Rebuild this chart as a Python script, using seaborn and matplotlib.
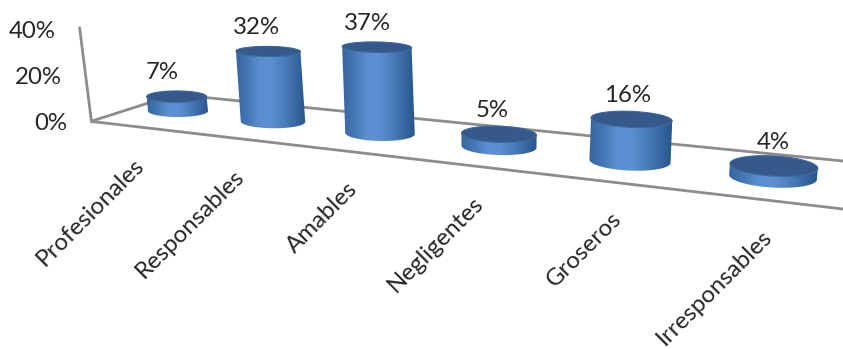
import numpy as np
import matplotlib
matplotlib.use("Agg")
import matplotlib.pyplot as plt
from matplotlib.colors import LinearSegmentedColormap
from matplotlib.patches import Polygon
import seaborn as sns

categories = ["Profesionales", "Responsables", "Amables", "Negligentes", "Groseros", "Irresponsables"]
values = [7, 32, 37, 5, 16, 4]
value_labels = ["7%", "32%", "37%", "5%", "16%", "4%"]
y_ticks = [0, 20, 40]
y_tick_labels = ["0%", "20%", "40%"]

sns.set_theme(style="white")
plt.rcParams["font.family"] = ["Lato", "DejaVu Sans"]
TEXT = "#262626"
AXIS = "#8c8c8c"
FS = 17.3

fig = plt.figure(figsize=(8.43, 3.49), dpi=100)
ax = fig.add_axes([0, 0, 1, 1])
ax.set_xlim(0, 843)
ax.set_ylim(349, 0)
ax.axis("off")


# ---- perspective projection of (category slot, percent) to the canvas
def base_x(i):
    return 178 + 95 * i + 6 * i * (i - 1)


def base_y(i):
    return 111 + 0.111 * (base_x(i) - 178)


def lift(i):
    return 2.05 + 0.14 * i


def lean(x):
    return (x - 500) * 0.0003


def half_w(i):
    return 30 + (base_x(i) - 178) * 0.0235


def half_h(i):
    return 6 + (base_x(i) - 178) * 0.0075


def tilt(i):
    return np.deg2rad((base_x(i) - 178) * 0.0055)


def ellipse(cx, cy, a, b, rot, t):
    x = a * np.cos(t)
    y = b * np.sin(t)
    return cx + x * np.cos(rot) - y * np.sin(rot), cy + x * np.sin(rot) + y * np.cos(rot)


# ---- axes: wall and floor
def wall_point(v):
    y = 122 - 2.3 * v
    return 91.5 - 0.126 * (122 - y), y


wx, wy = zip(*[wall_point(v) for v in (0, 41)])
line_kw = dict(color=AXIS, linewidth=2, sort=False, estimator=None, legend=False, ax=ax, zorder=1)
sns.lineplot(x=list(wx), y=list(wy), **line_kw)
sns.lineplot(x=[92, 175], y=[121, 94.5], **line_kw)
sns.lineplot(x=[175, 843], y=[94.5, 161], **line_kw)
sns.lineplot(x=[92, 843], y=[121.5, 209], **line_kw)

for v, lab in zip(y_ticks, y_tick_labels):
    x, y = wall_point(v)
    ax.text(x - 24, y + 1, lab, ha="right", va="center", fontsize=FS, color=TEXT)

# ---- cylinders
side = LinearSegmentedColormap.from_list(
    "side", ["#35669f", "#4577b6", "#5a8ed0", "#5c90d3", "#4c80bf", "#3a6ba6", "#28568c"])
stops = np.linspace(0, 1, 256)[None, :]
arc = np.linspace(0, np.pi, 60)
full = np.linspace(0, 2 * np.pi, 120)

for i, (val, lab) in enumerate(zip(values, value_labels)):
    bx, by = base_x(i), base_y(i)
    h = val * lift(i)
    tx, ty = bx + lean(bx) * h, by - h
    a, b, rot = half_w(i), half_h(i), tilt(i)
    bt = b * (1 - 0.0035 * h)
    lx, ly = ellipse(bx, by, a, b, rot, arc)
    ux, uy = ellipse(tx, ty, a, bt, rot, arc[::-1])
    body = Polygon(np.column_stack([np.r_[lx, ux], np.r_[ly, uy]]), closed=True,
                   facecolor="none", edgecolor="none", zorder=3)
    ax.add_patch(body)
    im = ax.imshow(stops, extent=(min(bx, tx) - a, max(bx, tx) + a, by + b + 3, ty - bt - 3),
                   cmap=side, aspect="auto", zorder=3, interpolation="bilinear")
    im.set_clip_path(body)
    ex, ey = ellipse(tx, ty, a, bt, rot, full)
    ax.add_patch(Polygon(np.column_stack([ex, ey]), closed=True, facecolor="#35598a",
                         edgecolor="#3d6699", linewidth=0.8, zorder=4))
    ax.text(tx - 14 + (bx - 178) * 0.022, ty - 24, lab, ha="center", va="center",
            fontsize=FS, color=TEXT, zorder=5)
    ax.text(bx - 37 + (bx - 178) * 0.055, by + 51 + (bx - 178) * 0.008, categories[i],
            rotation=45, rotation_mode="anchor", ha="right", va="center",
            fontsize=FS, color=TEXT, zorder=5)

ax.set_xlim(0, 843)
ax.set_ylim(349, 0)
ax.set_aspect("auto")
fig.savefig("out.png", dpi=100, facecolor="white")
